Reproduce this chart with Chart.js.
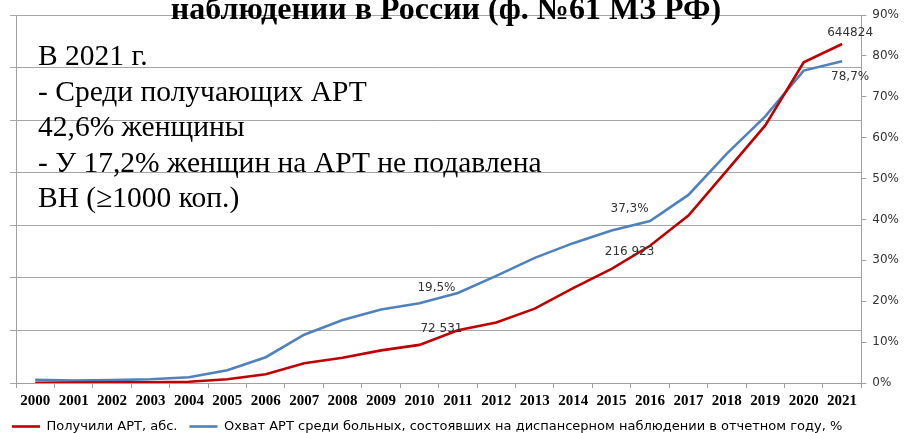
<!DOCTYPE html>
<html>
<head>
<meta charset="utf-8">
<script src="https://cdn.jsdelivr.net/npm/chart.js@4.4.1/dist/chart.umd.min.js"></script>
<style>
  html, body { margin: 0; padding: 0; background: #fff; }
  #wrap { width: 905px; height: 433px; }
</style>
</head>
<body>
<div id="wrap"><canvas id="artChart"></canvas></div>
<script>
const years = ['2000','2001','2002','2003','2004','2005','2006','2007','2008','2009','2010',
  '2011','2012','2013','2014','2015','2016','2017','2018','2019','2020','2021'];

// Получили АРТ, абс.
const artAbs = [600, 1000, 1300, 1500, 2500, 7000, 16500, 37500, 48000, 62000, 72531,
  100500, 115000, 141500, 180500, 216923, 261000, 318500, 404000, 490000, 610000, 644824];

// Охват АРТ, %
const artCoverage = [0.8, 0.6, 0.7, 0.9, 1.4, 3.1, 6.3, 11.8, 15.4, 18.0, 19.5,
  22.0, 26.2, 30.6, 34.2, 37.3, 39.6, 46.0, 56.1, 65.2, 76.4, 78.7];

const titleLine = 'наблюдении в России (ф. №61 МЗ РФ)';
const noteLines = [
  'В 2021 г.',
  '- Среди получающих АРТ',
  '42,6% женщины',
  '- У 17,2% женщин на АРТ не подавлена',
  'ВН (≥1000 коп.)'
];

// подписи значений: [набор, индекс, текст]
const pointLabels = [
  [0, 10, '72 531'], [0, 15, '216 923'], [0, 21, '644824'],
  [1, 10, '19,5%'], [1, 15, '37,3%'], [1, 21, '78,7%']
];
const labelOffsets = [[22, -16], [18, -17], [8, -11], [17, -15], [18, -22], [8, 16]];

const extras = {
  id: 'extras',
  afterDraw(chart) {
    const ctx = chart.ctx;
    ctx.save();
    // title (cut at top)
    ctx.fillStyle = '#000';
    ctx.font = 'bold 32px "Liberation Serif"';
    ctx.textAlign = 'center';
    ctx.textBaseline = 'alphabetic';
    ctx.fillText(titleLine, 446, 19);

    // note text
    ctx.font = '29.5px "Liberation Serif"';
    ctx.textAlign = 'left';
    noteLines.forEach((t, i) => ctx.fillText(t, 38, 65 + i * 35.6));

    // point labels
    ctx.font = '12px "DejaVu Sans"';
    ctx.fillStyle = '#333';
    ctx.textAlign = 'center';
    ctx.textBaseline = 'middle';
    pointLabels.forEach((p, k) => {
      const el = chart.getDatasetMeta(p[0]).data[p[1]];
      ctx.fillText(p[2], el.x + labelOffsets[k][0], el.y + labelOffsets[k][1]);
    });
    ctx.restore();
  }
};

new Chart(document.getElementById('artChart'), {
  type: 'line',
  data: {
    labels: years,
    datasets: [
      {
        label: 'Получили АРТ, абс.',
        data: artAbs,
        borderColor: '#c00000',
        backgroundColor: '#c00000',
        borderWidth: 2.6,
        pointRadius: 0,
        yAxisID: 'y'
      },
      {
        label: 'Охват АРТ среди больных, состоявших на диспансерном наблюдении в отчетном году, %',
        data: artCoverage,
        borderColor: '#4f81bd',
        backgroundColor: '#4f81bd',
        borderWidth: 2.6,
        pointRadius: 0,
        yAxisID: 'y1'
      }
    ]
  },
  options: {
    responsive: true,
    maintainAspectRatio: false,
    animation: false,
    layout: { padding: { top: 15, left: 0, right: 0, bottom: -10 } },
    plugins: {
      tooltip: { enabled: false },
      legend: {
        position: 'bottom',
        align: 'start',
        labels: {
          usePointStyle: true,
          pointStyle: 'line',
          pointStyleWidth: 28,
          boxHeight: 3,
          color: '#000',
          font: { family: '"DejaVu Sans"', size: 13 },
          padding: 12
        }
      }
    },
    scales: {
      x: {
        offset: true,
        grid: { offset: true, drawOnChartArea: false, color: '#a0a0a0', tickLength: 5 },
        border: { color: '#a0a0a0' },
        ticks: { color: '#000', font: { family: '"Liberation Serif"', size: 15, weight: 'bold', lineHeight: 1 }, maxRotation: 0, autoSkip: false, padding: 5.5 },
        afterFit(s) { s.height = 25; }
      },
      y: {
        min: 0, max: 700000,
        ticks: { stepSize: 100000, display: false },
        grid: { color: '#a6a6a6', tickLength: 6 },
        border: { color: '#a0a0a0' },
        afterFit(s) { s.width = 16; }
      },
      y1: {
        position: 'right',
        min: 0, max: 90,
        ticks: { stepSize: 10, color: '#333', font: { family: '"DejaVu Sans"', size: 12 }, padding: 6, callback: v => v + '%' },
        grid: { drawOnChartArea: false, color: '#a0a0a0', tickLength: 5 },
        border: { color: '#a0a0a0' }
      }
    }
  },
  plugins: [extras]
});
</script>
</body>
</html>
